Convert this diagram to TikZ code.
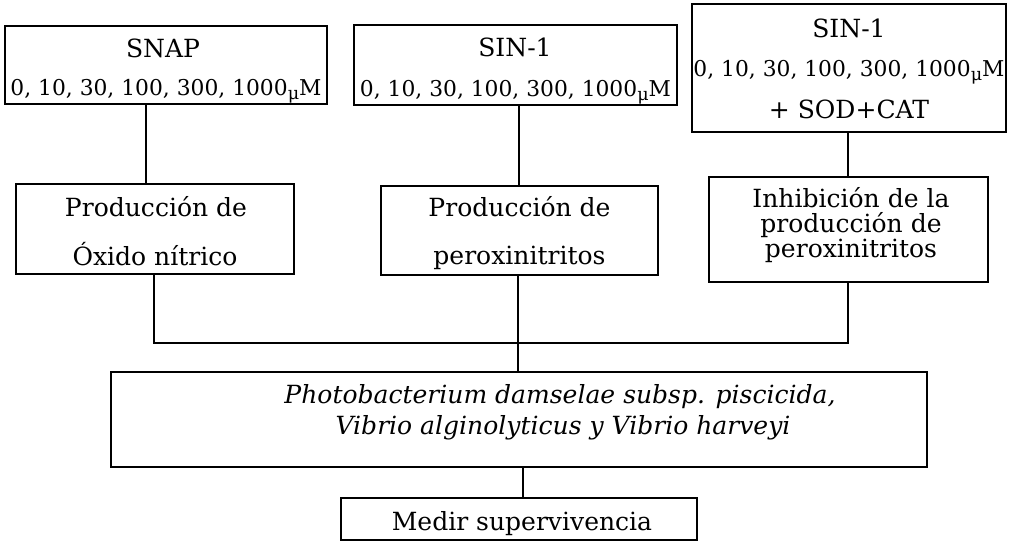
\documentclass[tikz,border=0pt]{standalone}
\usepackage{fontspec}
\setmainfont{DejaVu Serif}
\newcommand{\mum}{\raisebox{-0.35ex}{\fontsize{12.5}{12.5}\selectfont μ}M}
\newcommand{\bigf}{\fontsize{17.8}{20}\selectfont}
\newcommand{\numf}{\fontsize{15.5}{17}\selectfont}
\begin{document}
\begin{tikzpicture}[x=0.025cm,y=-0.025cm]
\tikzset{
  box/.style={draw, line width=1pt, inner sep=0pt},
  txt/.style={anchor=base, inner sep=0pt, font=\bigf},
  num/.style={anchor=base, inner sep=0pt, font=\numf},
  conn/.style={line width=1pt}
}
\useasboundingbox (0,0) rectangle (1012,543);
% boxes
\node[box, minimum width=8.05cm, minimum height=1.95cm] (A) at (166,65) {};
\node[box, minimum width=8.075cm, minimum height=2.0cm] (B) at (515.5,65) {};
\node[box, minimum width=7.85cm, minimum height=3.2cm] (C) at (849,68) {};
\node[box, minimum width=6.95cm, minimum height=2.25cm] (D) at (155,229) {};
\node[box, minimum width=6.925cm, minimum height=2.225cm] (E) at (519.5,230.5) {};
\node[box, minimum width=6.975cm, minimum height=2.625cm] (F) at (848.5,229.5) {};
\node[box, minimum width=20.4cm, minimum height=2.375cm] (G) at (519,419.5) {};
\node[box, minimum width=8.9cm, minimum height=1.05cm] (H) at (519,519) {};
% texts
\node[txt] (A1) at (163,58) {SNAP};
\node[num] (A2) at (166,96) {0, 10, 30, 100, 300, 1000\mum};
\node[txt] (B1) at (515,57) {SIN-1};
\node[num] (B2) at (515.5,97) {0, 10, 30, 100, 300, 1000\mum};
\node[txt] (C1) at (849,38) {SIN-1};
\node[num] (C2) at (849,77) {0, 10, 30, 100, 300, 1000\mum};
\node[txt] (C3) at (849,119) {+ SOD+CAT};
\node[txt] (D1) at (156,217) {Producción de};
\node[txt] (D2) at (155,266) {Óxido nítrico};
\node[txt] (E1) at (519.5,217) {Producción de};
\node[txt] (E2) at (519.5,265) {peroxinitritos};
\node[txt] (F1) at (851,208) {Inhibición de la};
\node[txt] (F2) at (851,233) {producción de};
\node[txt] (F3) at (851,258) {peroxinitritos};
\node[txt, font=\bigf\itshape] (G1) at (560,404) {Photobacterium damselae subsp. piscicida,};
\node[txt, font=\bigf\itshape] (G2) at (563,435) {Vibrio alginolyticus y Vibrio harveyi};
\node[txt] (H1) at (522,530) {Medir supervivencia};
% connectors
\coordinate (xa) at (146,0);
\coordinate (xd) at (154,0);
\coordinate (xb) at (519,0);
\coordinate (xm) at (518,0);
\coordinate (xc) at (848,0);
\coordinate (xh) at (523,0);
\coordinate (bus) at (0,343);
\draw[conn] (A.south -| xa) -- (D.north -| xa);
\draw[conn] (B.south -| xb) -- (E.north -| xb);
\draw[conn] (C.south -| xc) -- (F.north -| xc);
\draw[conn] (D.south -| xd) |- (bus -| xm);
\draw[conn] (F.south -| xc) |- (bus -| xm);
\draw[conn] (E.south -| xm) -- (G.north -| xm);
\draw[conn] (G.south -| xh) -- (H.north -| xh);
\end{tikzpicture}
\end{document}
